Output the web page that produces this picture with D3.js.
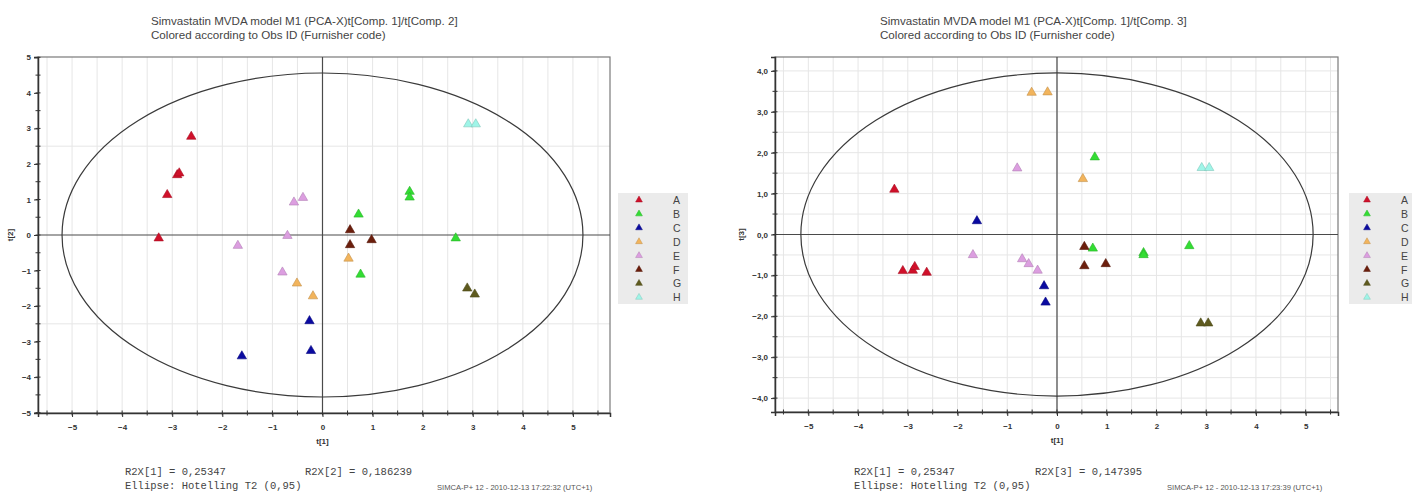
<!DOCTYPE html>
<html><head><meta charset="utf-8">
<script src="https://cdn.jsdelivr.net/npm/d3@7"></script>
<style>
body{margin:0;background:#fff;}
svg{display:block;}
</style></head><body>
<svg id="c" width="1412" height="492"></svg>
<script>
// ---- data ----
const groups = ["A","B","C","D","E","F","G","H"];
const groupColors = ["#d0102a","#33dd33","#0a0aa0","#f2b45c","#dc9ee0","#6b1e0c","#5e5a1e","#9ff5e8"];
const obsGroup = ["A","A","A","A","A","B","B","B","B","B","C","C","C","D","D","D","E","E","E","E","E","F","F","F","G","G","H","H"];
const obsT1 = [-2.62,-2.90,-2.86,-3.10,-3.27, 1.74,1.74,0.72,0.76,2.66, -1.61,-0.26,-0.23, -0.51,-0.19,0.52, -0.57,-0.39,-0.70,-1.69,-0.80, 0.55,0.55,0.98, 2.89,3.04, 2.91,3.06];
const obsT2 = [2.77,1.69,1.74,1.13,-0.09, 1.22,1.06,0.58,-1.11,-0.09, -3.41,-2.42,-3.26, -1.36,-1.72,-0.66, 0.92,1.05,-0.02,-0.30,-1.05, 0.14,-0.28,-0.14, -1.50,-1.67, 3.12,3.12];
const obsT3 = [-0.93,-0.88,-0.79,-0.89,1.10, -0.45,-0.50,-0.34,1.89,-0.28, 0.33,-1.26,-1.66, 3.47,3.48,1.36, -0.72,-0.88,-0.60,-0.50,1.62, -0.30,-0.77,-0.72, -2.17,-2.17, 1.63,1.63];
const xTicks = [-5,-4,-3,-2,-1,0,1,2,3,4,5];
const yTicksLeft = [-5,-4,-3,-2,-1,0,1,2,3,4,5];
const yTicksRight = [-4,-3,-2,-1,0,1,2,3,4];
const titleLine1 = ["Simvastatin MVDA model M1 (PCA-X)t[Comp. 1]/t[Comp. 2]","Simvastatin MVDA model M1 (PCA-X)t[Comp. 1]/t[Comp. 3]"];
const titleLine2 = "Colored according to Obs ID (Furnisher code)";
const r2x1 = "R2X[1] = 0,25347";
const r2xOther = ["R2X[2] = 0,186239","R2X[3] = 0,147395"];
const ellipseText = "Ellipse: Hotelling T2 (0,95)";
const footers = ["SIMCA-P+ 12 - 2010-12-13 17:22:32 (UTC+1)","SIMCA-P+ 12 - 2010-12-13 17:23:39 (UTC+1)"];
const ellipseAxes = [[5.2,4.56],[5.15,3.95]];
const yLabels = ["t[2]","t[3]"];

const svg = d3.select("#c");
const color = d3.scaleOrdinal().domain(groups).range(groupColors);

function panel(cfg){
  const g = svg.append("g");
  const x = d3.scaleLinear().domain(cfg.xDom).range([cfg.left,cfg.right]);
  const y = d3.scaleLinear().domain(cfg.yDom).range([cfg.bottom,cfg.top]);
  // grid
  const gx = d3.range(Math.ceil(cfg.xDom[0]*2)/2, cfg.xDom[1], 0.5);
  g.selectAll(".vg").data(gx).join("line")
    .attr("x1",d=>x(d)).attr("x2",d=>x(d)).attr("y1",cfg.top).attr("y2",cfg.bottom)
    .attr("stroke","#e6e6e6").attr("stroke-width",1);
  g.selectAll(".hg").data(cfg.hGrid).join("line")
    .attr("y1",d=>y(d)).attr("y2",d=>y(d)).attr("x1",cfg.left).attr("x2",cfg.right)
    .attr("stroke","#e6e6e6").attr("stroke-width",1);
  // frame top/right
  g.append("rect").attr("x",cfg.left).attr("y",cfg.top).attr("width",cfg.right-cfg.left).attr("height",cfg.bottom-cfg.top)
    .attr("fill","none").attr("stroke","#7a7a7a").attr("stroke-width",1.2);
  // zero lines
  g.append("line").attr("x1",x(0)).attr("x2",x(0)).attr("y1",cfg.top).attr("y2",cfg.bottom).attr("stroke","#4a4a4a").attr("stroke-width",1.2);
  g.append("line").attr("y1",y(0)).attr("y2",y(0)).attr("x1",cfg.left).attr("x2",cfg.right).attr("stroke","#4a4a4a").attr("stroke-width",1.2);
  // ellipse
  const [a,b] = cfg.ell;
  g.append("ellipse").attr("cx",x(0)).attr("cy",y(0))
    .attr("rx",x(a)-x(0)).attr("ry",y(0)-y(b))
    .attr("fill","none").attr("stroke","#3a3a3a").attr("stroke-width",1.2);
  // axes
  const xAxis = d3.axisBottom(x).tickValues(xTicks).tickSize(4).tickFormat(d3.format("d"));
  const xa = g.append("g").attr("transform",`translate(0,${cfg.bottom})`).call(xAxis);
  const xMinor = d3.range(Math.ceil(cfg.xDom[0]*2)/2, cfg.xDom[1], 0.5);
  xa.selectAll(".mn").data(xMinor).join("line").attr("x1",d=>x(d)).attr("x2",d=>x(d)).attr("y1",-2.5).attr("y2",2.5).attr("stroke","#333");
  const yAxis = d3.axisLeft(y).tickValues(cfg.yTicks).tickSize(4).tickFormat(cfg.yFmt);
  const ya = g.append("g").attr("transform",`translate(${cfg.left},0)`).call(yAxis);
  const yMinor = d3.range(Math.ceil(cfg.yDom[0]*2)/2, cfg.yDom[1]+0.001, 0.5);
  ya.selectAll(".mn").data(yMinor).join("line").attr("y1",d=>y(d)).attr("y2",d=>y(d)).attr("x1",-2.5).attr("x2",2.5).attr("stroke","#333");
  [xa,ya].forEach(ax=>{
    ax.select(".domain").attr("stroke","#333").attr("stroke-width",1.5);
    ax.selectAll(".tick line").attr("stroke","#333");
    ax.selectAll("text").attr("font-family","Liberation Sans, Arial, sans-serif").attr("font-size",8).attr("font-weight","bold").attr("fill","#333");
  });
  xa.selectAll(".tick text").attr("dy","1.25em");
  // axis labels
  g.append("text").attr("x",x(0)).attr("y",cfg.bottom+31).attr("text-anchor","middle")
    .attr("font-family","Liberation Sans, Arial, sans-serif").attr("font-size",8).attr("font-weight","bold").attr("fill","#333").text("t[1]");
  g.append("text").attr("transform",`translate(${cfg.yLabX},${y(0)}) rotate(-90)`).attr("text-anchor","middle")
    .attr("font-family","Liberation Sans, Arial, sans-serif").attr("font-size",8).attr("font-weight","bold").attr("fill","#333").text(cfg.yLab);
  // points
  const idx = d3.range(obsGroup.length);
  const sym = d3.symbol().type(d3.symbolTriangle).size(38);
  g.selectAll(".pt").data(idx).join("path")
    .attr("d",sym)
    .attr("transform",i=>`translate(${x(obsT1[i])},${y(cfg.yVals[i])})`)
    .attr("fill",i=>color(obsGroup[i]))
    .attr("stroke",i=>d3.color(color(obsGroup[i])).darker(0.6))
    .attr("stroke-width",0.6);
  // titles
  const tt = g.append("text").attr("font-family","Liberation Sans, Arial, sans-serif").attr("font-size",11.6).attr("fill","#444");
  tt.append("tspan").attr("x",cfg.titleX).attr("y",25).text(cfg.title);
  tt.append("tspan").attr("x",cfg.titleX).attr("y",39).text(titleLine2);
  // legend
  g.append("rect").attr("x",cfg.legX).attr("y",193).attr("width",cfg.legW).attr("height",111).attr("fill","#ebebeb");
  groups.forEach((k,i)=>{
    g.append("path").attr("d",d3.symbol().type(d3.symbolTriangle).size(20))
      .attr("transform",`translate(${cfg.legX+cfg.legMk},${200+i*13.9})`)
      .attr("fill",color(k)).attr("stroke",d3.color(color(k)).darker(0.6)).attr("stroke-width",0.5);
    g.append("text").attr("x",cfg.legX+cfg.legTx).attr("y",200+i*13.9+4)
      .attr("font-family","Liberation Sans, Arial, sans-serif").attr("font-size",10.5).attr("fill","#444").text(k);
  });
  // bottom texts
  const mono = {"font-family":"Liberation Mono, Courier New, monospace","font-size":10.5,"fill":"#444"};
  const t1 = g.append("text").attr("x",cfg.btX).attr("y",475).text(r2x1);
  const t2 = g.append("text").attr("x",cfg.btX2).attr("y",475).text(cfg.r2);
  const t3 = g.append("text").attr("x",cfg.btX).attr("y",489).text(ellipseText);
  [t1,t2,t3].forEach(t=>Object.entries(mono).forEach(([k,v])=>t.attr(k,v)));
  g.append("text").attr("x",cfg.ftX).attr("y",490).attr("font-family","Liberation Sans, Arial, sans-serif").attr("font-size",7.6).attr("fill","#555").text(cfg.footer);
}

panel({left:38,right:610,top:57,bottom:413,xDom:[-5.68,5.74],yDom:[-5.01,5.01],
  yTicks:yTicksLeft,yFmt:d3.format("d"),hGrid:[-2.5,2.5],ell:ellipseAxes[0],yVals:obsT2,
  yLab:yLabels[0],yLabX:13,title:titleLine1[0],titleX:151,
  legX:618,legW:70,legMk:21,legTx:55,btX:125,btX2:305,r2:r2xOther[0],ftX:437,footer:footers[0]});
panel({left:775,right:1338,top:57,bottom:412,xDom:[-5.67,5.65],yDom:[-4.34,4.34],
  yTicks:yTicksRight,yFmt:d=>d3.format(".1f")(d).replace(".",","),hGrid:d3.range(-4,4.01,0.5),ell:ellipseAxes[1],yVals:obsT3,
  yLab:yLabels[1],yLabX:744,title:titleLine1[1],titleX:880,
  legX:1349,legW:63,legMk:18,legTx:52,btX:854,btX2:1035,r2:r2xOther[1],ftX:1167,footer:footers[1]});
</script>
</body></html>
